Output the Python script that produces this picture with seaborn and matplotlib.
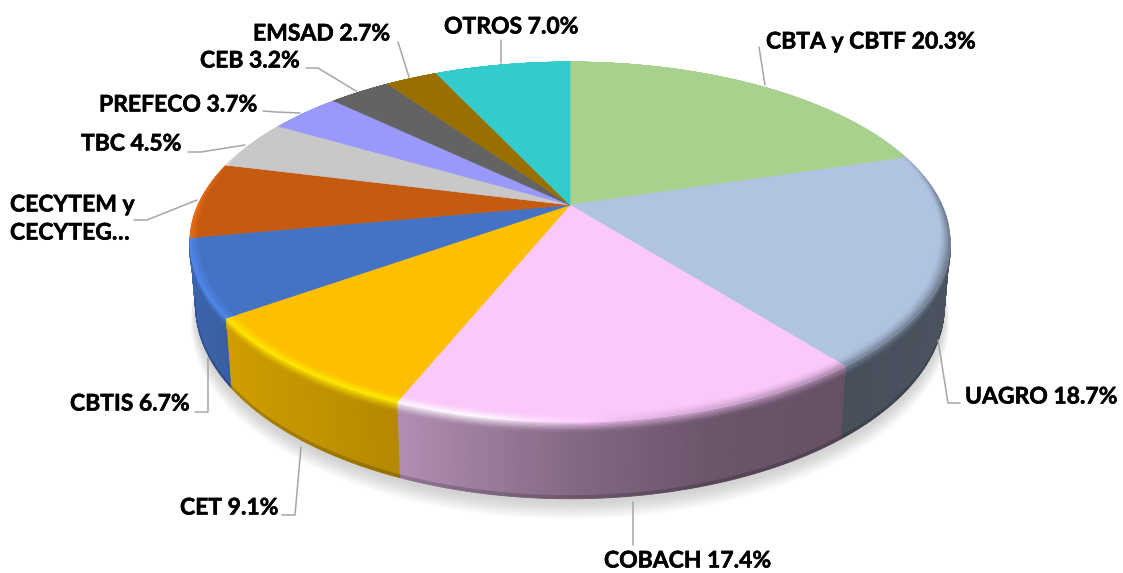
import numpy as np
import matplotlib
matplotlib.use("Agg")
import matplotlib.pyplot as plt
import matplotlib.patheffects as pe
from matplotlib.collections import PolyCollection
import seaborn as sns

# data, clockwise from 12 o'clock
names = ['CBTA y CBTF', 'UAGRO', 'COBACH', 'CET', 'CBTIS', 'CECYTEM y\nCECYTEG…',
         'TBC', 'PREFECO', 'CEB', 'EMSAD', 'OTROS']
values = [20.3, 18.7, 17.4, 9.1, 6.7, 6.7, 4.5, 3.7, 3.2, 2.7, 7.0]
show_value = [True, True, True, True, True, False, True, True, True, True, True]
colors = ['#a9d18e', '#b0c4e2', '#fbc8fb', '#fdbf00', '#4472c4', '#c55a11',
          '#c8c8c8', '#9999fb', '#636363', '#997000', '#33cccc']

# label position (left x, middle y) and leader line, in pixels
label_pos = [(766, 42), (965, 397), (604, 561), (180, 508), (70, 404), (10, 219),
             (81, 144), (99, 105), (200, 61), (253, 34), (444, 27)]
leaders = [[(759, 47), (765, 85)],
           [(938, 340), (948, 403), (960, 403)],
           [(633, 502), (633, 545)],
           [(301, 447), (295, 515), (282, 515)],
           [(208, 358), (208, 412), (195, 412)],
           [(197, 200), (147, 220), (134, 220)],
           [(245, 145), (201, 152), (188, 152)],
           [(300, 113), (276, 112), (263, 111)],
           [(356, 91), (318, 68), (306, 68)],
           [(409, 77), (398, 42)],
           [(501, 63), (501, 40)]]

# pie geometry (perspective view of a disc)
cx, cy = 570, 205
a, b, k = 372, 172.4, 0.2055
depth = 61
taper = 0.985
warp = 0.022


def project(theta, r=1.0, drop=0.0, shrink=1.0):
    # front half is squeezed a little towards 6 o'clock
    theta = theta - warp * np.sin(2 * theta) * (np.cos(theta) < 0)
    X = r * np.sin(theta)
    Y = r * np.cos(theta)
    w = 1 + k * Y
    return cx + shrink * a * X / w, cy - b * Y / w + drop / w


# lighting of the side and of the bevel, depends on x only
def side_light(x):
    return np.interp(x, [190, 230, 397, 575, 720, 845, 950],
                     [.88, .82, .71, .52, .42, .40, .42])


def bevel_light(x):
    return np.interp(x, [190, 480, 620, 800, 950], [1.2, 1.26, .95, .72, .62])


sns.set_theme(style="white")
plt.rcParams['font.family'] = ['Lato', 'DejaVu Sans']

fig = plt.figure(figsize=(11.23, 5.73), dpi=100)
ax = fig.add_axes([0, 0, 1, 1])
ax.set_xlim(0, 1123)
ax.set_ylim(573, 0)
ax.axis('off')

palette = sns.color_palette(colors)
edges = np.deg2rad(np.concatenate([[0], np.cumsum(values)]) / sum(values) * 360)

# soft shadow under the pie
t = np.linspace(0, 2 * np.pi, 360)
for i in range(12):
    sx, sy = project(t, drop=depth + 3 + i * 1.2, shrink=taper + i * 0.0012)
    ax.fill(sx, sy, color='#808080', alpha=0.032, lw=0, zorder=1)

wall, wall_c = [], []
bevel, bevel_c = [], []
top_polys, top_cols = [], []
n_bev = 8
for i, base in enumerate(palette):
    base = np.array(base)
    n = max(3, int((edges[i + 1] - edges[i]) * 80))
    th = np.linspace(edges[i], edges[i + 1], n + 1)
    for t0, t1 in zip(th[:-1], th[1:]):
        tm = (t0 + t1) / 2
        xm = project(tm)[0]
        side = base * side_light(xm)
        fade = np.clip((0.35 - np.cos(tm)) / 0.35, 0, 1)
        hi = base + (np.clip(base * bevel_light(xm), 0, 1) - base) * fade
        f = np.clip((0.5 - np.cos(tm)) / 0.8, 0.12, 1)
        r_in = 1 - 0.032 * f

        # only the front facing part of the wall can be seen
        if np.cos(tm) < -k + 0.03:
            for d0, d1, c in [(0, depth - 2.5, side), (depth - 2.5, depth, side * 0.82)]:
                s0 = taper * d0 / depth + (1 - d0 / depth)
                s1 = taper * d1 / depth + (1 - d1 / depth)
                wall.append([project(t0, drop=d0, shrink=s0), project(t1, drop=d0, shrink=s0),
                             project(t1, drop=d1, shrink=s1), project(t0, drop=d1, shrink=s1)])
                wall_c.append(c)

            # bevel going over the rim onto the side
            for j in range(n_bev):
                d0, d1 = 8 * j / n_bev, 8 * (j + 1) / n_bev
                c = hi + (side - hi) * ((j + .5) / n_bev) ** 0.8
                bevel.append([project(t0, drop=d0), project(t1, drop=d0),
                              project(t1, drop=d1), project(t0, drop=d1)])
                bevel_c.append(c)

        # bevel on the top surface
        for j in range(n_bev):
            r0 = r_in + (1 - r_in) * j / n_bev
            r1 = r_in + (1 - r_in) * (j + 1) / n_bev
            c = base + (hi - base) * ((j + .5) / n_bev) ** 1.5
            top_polys.append([project(t0, r=r0), project(t1, r=r0),
                              project(t1, r=r1), project(t0, r=r1)])
            top_cols.append(c)

ax.add_collection(PolyCollection(wall, facecolors=wall_c, edgecolors=wall_c, linewidths=0.6, zorder=2))
ax.add_collection(PolyCollection(bevel, facecolors=bevel_c, edgecolors=bevel_c, linewidths=0.6, zorder=2.5))

# top surface wedges
for i, base in enumerate(palette):
    th = np.linspace(edges[i], edges[i + 1], 120)
    px, py = project(th)
    ax.fill(np.r_[cx, px], np.r_[cy, py], color=base, lw=0.4, zorder=3)
ax.add_collection(PolyCollection(top_polys, facecolors=top_cols, edgecolors=top_cols, linewidths=0.6, zorder=4))

# labels and leader lines
for name, val, show, pos, line in zip(names, values, show_value, label_pos, leaders):
    txt = f"{name} {val}%" if show else name
    ax.text(pos[0], pos[1], txt, ha='left', va='center', fontsize=16.5, fontweight='bold',
            color='black', linespacing=1.42, zorder=6,
            path_effects=[pe.withStroke(linewidth=0.4, foreground='black')])
    lx, ly = zip(*line)
    ax.plot(lx, ly, color='#a6a6a6', lw=1.1, zorder=5)

fig.savefig('out.png', dpi=100)
